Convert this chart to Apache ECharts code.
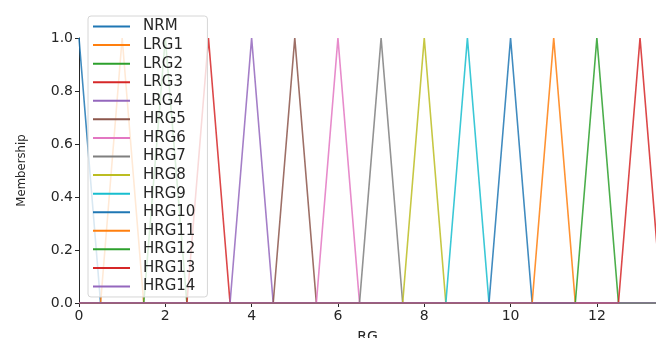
<!DOCTYPE html>
<html>
<head>
<meta charset="utf-8">
<script src="https://cdn.jsdelivr.net/npm/echarts@6/dist/echarts.min.js"></script>
<style>
  html, body { margin: 0; padding: 0; background: #fff; }
  #chart { width: 656px; height: 338px; }
</style>
</head>
<body>
<div id="chart"></div>
<script>
// membership function names, in legend order
const names = ['NRM', 'LRG1', 'LRG2', 'LRG3', 'LRG4', 'HRG5', 'HRG6', 'HRG7',
  'HRG8', 'HRG9', 'HRG10', 'HRG11', 'HRG12', 'HRG13', 'HRG14']
// triangle vertices (RG units)
const leftFoot  = [0, 0.5, 1.5, 2.5, 3.5, 4.5, 5.5, 6.5, 7.5, 8.5, 9.5, 10.5, 11.5, 12.5, 13.5]
const peak      = [0, 1, 2, 3, 4, 5, 6, 7, 8, 9, 10, 11, 12, 13, 14]
const rightFoot = [0.5, 1.5, 2.5, 3.5, 4.5, 5.5, 6.5, 7.5, 8.5, 9.5, 10.5, 11.5, 12.5, 13.5, 14.5]
const xTicks = [0, 2, 4, 6, 8, 10, 12]
const yTicks = [0, 0.2, 0.4, 0.6, 0.8, 1.0]
const xMin = 0
const xMax = 13.37

const colors = ['#1f77b4', '#ff7f0e', '#2ca02c', '#d62728', '#9467bd', '#8c564b', '#e377c2',
  '#7f7f7f', '#bcbd22', '#17becf']

const font = 'DejaVu Sans'

const series = names.map((name, i) => {
  const pts = []
  if (leftFoot[i] > xMin) pts.push([xMin, 0])
  if (leftFoot[i] < peak[i]) pts.push([leftFoot[i], 0])
  pts.push([peak[i], 1])
  pts.push([rightFoot[i], 0])
  if (rightFoot[i] < 20) pts.push([20, 0])
  return {
    name,
    type: 'line',
    data: pts,
    symbol: 'none',
    clip: true,
    lineStyle: { width: 1.6, color: colors[i % colors.length], opacity: 0.85 },
    itemStyle: { color: colors[i % colors.length] },
    emphasis: { disabled: true }
  }
})

const chart = echarts.init(document.getElementById('chart'), null, { renderer: 'canvas' })
chart.setOption({
  animation: false,
  backgroundColor: '#fff',
  textStyle: { fontFamily: font },
  grid: { left: 79, right: 0, top: 38, bottom: 35, containLabel: false, outerBoundsMode: 'none' },
  legend: {
    orient: 'vertical',
    left: 88,
    top: 16,
    padding: [3, 12, 3, 5],
    icon: 'rect',
    itemWidth: 37,
    itemHeight: 2,
    itemGap: 3.57,
    backgroundColor: 'rgba(255,255,255,0.8)',
    borderColor: '#d6d6d6',
    borderWidth: 1,
    borderRadius: 3,
    textStyle: { fontFamily: font, fontSize: 15, lineHeight: 14, color: '#262626', padding: [0, 0, 0, 8] },
    data: names
  },
  xAxis: {
    type: 'value',
    min: xMin,
    max: xMax,
    interval: 2,
    name: 'RG',
    nameLocation: 'middle',
    nameGap: 27,
    nameTextStyle: { fontFamily: font, fontSize: 14, color: '#262626' },
    axisLine: { lineStyle: { color: '#262626', width: 1 } },
    axisTick: { show: true, length: 4, lineStyle: { color: '#262626' } },
    axisLabel: {
      color: '#262626', fontSize: 14, fontFamily: font, margin: 6,
      showMaxLabel: false,
      formatter: v => xTicks.includes(v) ? String(v) : ''
    },
    splitLine: { show: false }
  },
  yAxis: {
    type: 'value',
    min: 0,
    max: 1,
    interval: 0.2,
    name: 'Membership',
    nameLocation: 'middle',
    nameRotate: 90,
    nameGap: 51,
    nameTextStyle: { fontFamily: 'DejaVu Sans Condensed', fontSize: 13, color: '#262626' },
    axisLine: { show: true, lineStyle: { color: '#262626', width: 1 } },
    axisTick: { show: true, length: 4, lineStyle: { color: '#262626' } },
    axisLabel: {
      color: '#262626', fontSize: 14, fontFamily: font, margin: 6,
      formatter: v => yTicks.some(t => Math.abs(t - v) < 1e-9) ? v.toFixed(1) : ''
    },
    splitLine: { show: false }
  },
  series
})
</script>
</body>
</html>
